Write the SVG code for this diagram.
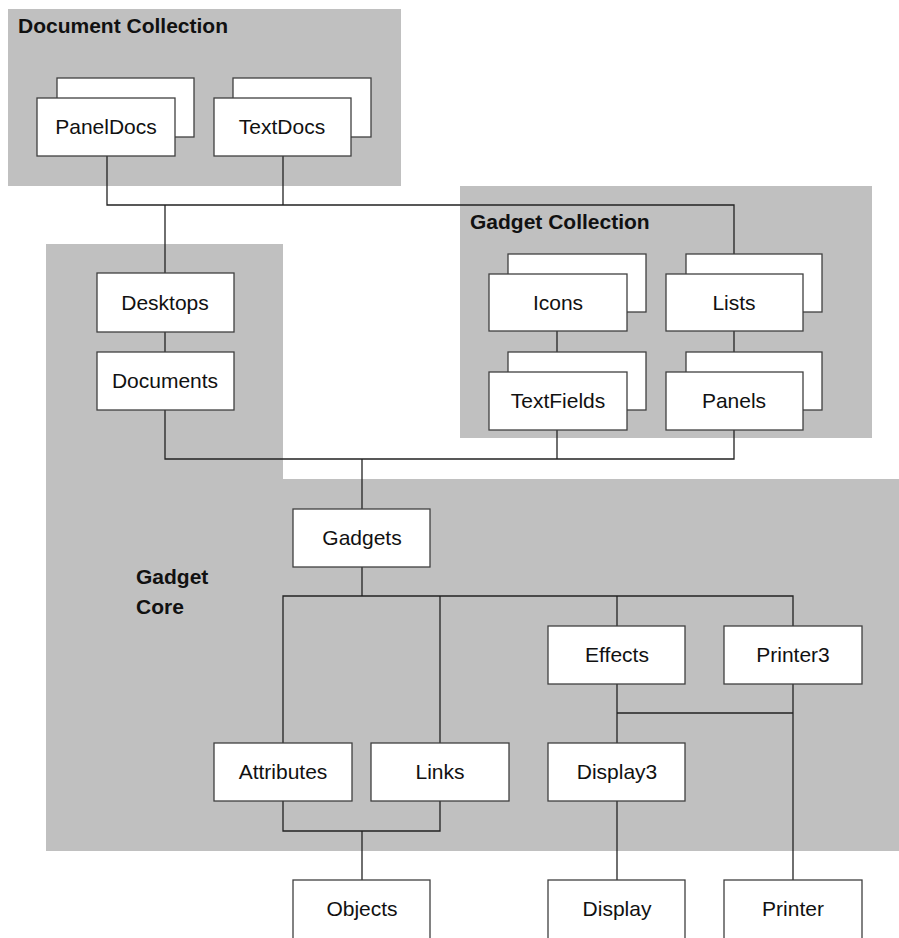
<svg xmlns="http://www.w3.org/2000/svg" width="899" height="938" viewBox="0 0 899 938">
  <style>
    .panel { fill: #c0c0c0; stroke: none; }
    .box { fill: #ffffff; stroke: #404040; stroke-width: 1.3; }
    .label { font-family: "Liberation Sans", Arial, sans-serif; font-size: 21px; fill: #111; text-anchor: middle; }
    .title { font-family: "Liberation Sans", Arial, sans-serif; font-size: 21px; font-weight: bold; fill: #111; }
    .wire { fill: none; stroke: #222; stroke-width: 1.3; }
  </style>

  <!-- grouping panels -->
  <g id="panel-document-collection">
    <rect class="panel" x="8" y="9" width="393" height="177"/>
    <text class="title" x="18" y="33">Document Collection</text>
  </g>
  <g id="panel-gadget-collection">
    <rect class="panel" x="460" y="186" width="412" height="252"/>
    <text class="title" x="470" y="229">Gadget Collection</text>
  </g>
  <g id="panel-gadget-core">
    <path class="panel" d="M46 244 H283 V479 H899 V851 H46 Z"/>
    <text class="title" x="136" y="584">Gadget</text>
    <text class="title" x="136" y="614">Core</text>
  </g>

  <!-- connectors -->
  <g id="connectors">
    <path class="wire" d="M107 156 V205 H734 V254"/>
    <path class="wire" d="M283 156 V205"/>
    <path class="wire" d="M165 205 V273"/>
    <path class="wire" d="M165 332 V352"/>
    <path class="wire" d="M557 331 V352"/>
    <path class="wire" d="M734 331 V352"/>
    <path class="wire" d="M165 410 V459 H734 V430"/>
    <path class="wire" d="M557 430 V459"/>
    <path class="wire" d="M362 459 V509"/>
    <path class="wire" d="M362 567 V596"/>
    <path class="wire" d="M283 743 V596 H793 V626"/>
    <path class="wire" d="M440 596 V743"/>
    <path class="wire" d="M617 596 V626"/>
    <path class="wire" d="M617 684 V743"/>
    <path class="wire" d="M617 713 H793"/>
    <path class="wire" d="M793 684 V880"/>
    <path class="wire" d="M283 801 V831 H440 V801"/>
    <path class="wire" d="M362 831 V880"/>
    <path class="wire" d="M617 801 V880"/>
  </g>

  <!-- stacked collection nodes -->
  <g id="node-paneldocs">
    <rect class="box" x="57" y="78" width="137" height="59"/>
    <rect class="box" x="37" y="98" width="138" height="58"/>
    <text class="label" x="106" y="134">PanelDocs</text>
  </g>
  <g id="node-textdocs">
    <rect class="box" x="233" y="78" width="138" height="59"/>
    <rect class="box" x="214" y="98" width="137" height="58"/>
    <text class="label" x="282" y="134">TextDocs</text>
  </g>
  <g id="node-icons">
    <rect class="box" x="508" y="254" width="138" height="58"/>
    <rect class="box" x="489" y="274" width="138" height="57"/>
    <text class="label" x="558" y="310">Icons</text>
  </g>
  <g id="node-lists">
    <rect class="box" x="686" y="254" width="136" height="58"/>
    <rect class="box" x="666" y="274" width="137" height="57"/>
    <text class="label" x="734" y="310">Lists</text>
  </g>
  <g id="node-textfields">
    <rect class="box" x="508" y="352" width="138" height="58"/>
    <rect class="box" x="489" y="372" width="138" height="58"/>
    <text class="label" x="558" y="408">TextFields</text>
  </g>
  <g id="node-panels">
    <rect class="box" x="686" y="352" width="136" height="58"/>
    <rect class="box" x="666" y="372" width="137" height="58"/>
    <text class="label" x="734" y="408">Panels</text>
  </g>

  <!-- single nodes -->
  <g id="node-desktops">
    <rect class="box" x="97" y="273" width="137" height="59"/>
    <text class="label" x="165" y="310">Desktops</text>
  </g>
  <g id="node-documents">
    <rect class="box" x="97" y="352" width="137" height="58"/>
    <text class="label" x="165" y="388">Documents</text>
  </g>
  <g id="node-gadgets">
    <rect class="box" x="293" y="509" width="137" height="58"/>
    <text class="label" x="362" y="545">Gadgets</text>
  </g>
  <g id="node-effects">
    <rect class="box" x="548" y="626" width="137" height="58"/>
    <text class="label" x="617" y="662">Effects</text>
  </g>
  <g id="node-printer3">
    <rect class="box" x="724" y="626" width="138" height="58"/>
    <text class="label" x="793" y="662">Printer3</text>
  </g>
  <g id="node-attributes">
    <rect class="box" x="214" y="743" width="138" height="58"/>
    <text class="label" x="283" y="779">Attributes</text>
  </g>
  <g id="node-links">
    <rect class="box" x="371" y="743" width="138" height="58"/>
    <text class="label" x="440" y="779">Links</text>
  </g>
  <g id="node-display3">
    <rect class="box" x="548" y="743" width="137" height="58"/>
    <text class="label" x="617" y="779">Display3</text>
  </g>
  <g id="node-objects">
    <rect class="box" x="293" y="880" width="137" height="70"/>
    <text class="label" x="362" y="916">Objects</text>
  </g>
  <g id="node-display">
    <rect class="box" x="548" y="880" width="137" height="70"/>
    <text class="label" x="617" y="916">Display</text>
  </g>
  <g id="node-printer">
    <rect class="box" x="724" y="880" width="138" height="70"/>
    <text class="label" x="793" y="916">Printer</text>
  </g>
</svg>
